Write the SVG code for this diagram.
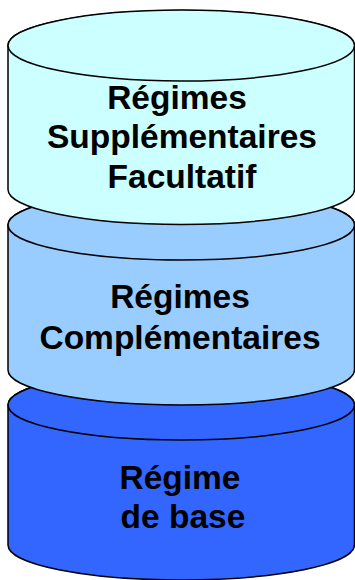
<svg xmlns="http://www.w3.org/2000/svg" width="355" height="580" viewBox="0 0 355 580">
<style>
.body{stroke:#000;stroke-width:1.5}
.t{font-family:"Liberation Sans",Arial,sans-serif;font-weight:bold;font-size:33.5px;fill:#000;text-anchor:middle}
</style>
<rect width="355" height="580" fill="#fff"/>
<g id="base">
<path class="body" fill="#3366FF" d="M8,405 L8,545 A173.25,35 0 0 0 354.5,545 L354.5,405 A173.25,35 0 0 0 8,405 Z"/>
<ellipse class="body" fill="#3366FF" cx="181.25" cy="405" rx="173.25" ry="35"/>
<text class="t" x="180" y="489">Régime</text>
<text class="t" x="183" y="528">de base</text>
</g>
<g id="complementaires">
<path class="body" fill="#99CCFF" d="M8,225 L8,370 A173.25,35 0 0 0 354.5,370 L354.5,225 A173.25,35 0 0 0 8,225 Z"/>
<ellipse class="body" fill="#99CCFF" cx="181.25" cy="225" rx="173.25" ry="35"/>
<text class="t" x="180" y="308">Régimes</text>
<text class="t" x="180" y="349">Complémentaires</text>
</g>
<g id="supplementaires">
<path class="body" fill="#CCFFFF" d="M8,45.5 L8,189.5 A173.25,35 0 0 0 354.5,189.5 L354.5,45.5 A173.25,35 0 0 0 8,45.5 Z"/>
<ellipse class="body" fill="#CCFFFF" cx="181.25" cy="45.5" rx="173.25" ry="35.5"/>
<text class="t" x="177" y="108.5">Régimes</text>
<text class="t" x="182" y="148">Supplémentaires</text>
<text class="t" x="182" y="188">Facultatif</text>
</g>
<g id="connectors"/>
</svg>
